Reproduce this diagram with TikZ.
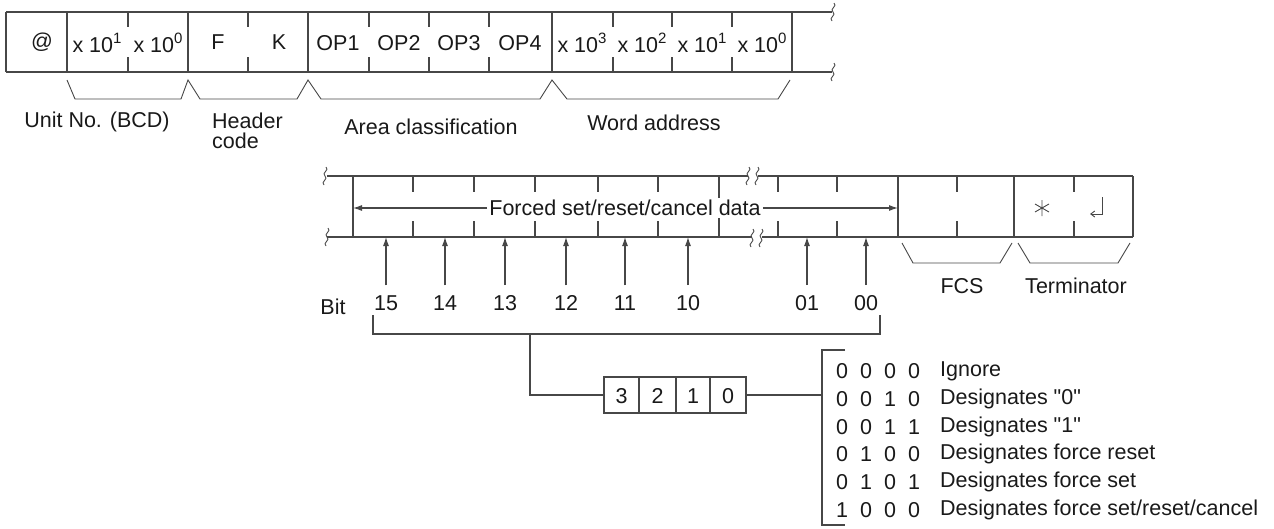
\documentclass[tikz,border=0pt]{standalone}
\usepackage{fontspec}
\setmainfont{Liberation Sans}
\usetikzlibrary{arrows.meta}
\newcommand{\mysup}[1]{\raisebox{0.42em}{\fontsize{15}{15}\selectfont #1}}
\begin{document}
\begin{tikzpicture}[x=1pt,y=-1pt,
  ln/.style={draw=black!72,line width=1.1pt},
  thin/.style={draw=black!72,line width=0.9pt},
  txt/.style={font=\fontsize{21.5}{20}\selectfont,text=black!90,inner sep=0pt},
  arr/.style={ln,-{Latex[length=9pt,width=6pt]}},
  brk/.pic={\draw[thin] (1,-9) .. controls (5,-6) and (-4,-3) .. (0,0) .. controls (4,3) and (-5,6) .. (-1,9);},
  ]
\useasboundingbox (0,0) rectangle (1274,528);

% ---------------- top frame ----------------
\coordinate (tl) at (6,12);
\coordinate (bl) at (6,72);
\draw[ln] (tl) -- (832,12);
\draw[ln] (bl) -- (832,72);
\draw[ln] (tl) -- (bl);
\pic at (833,12) {brk};
\pic at (833,72) {brk};
\foreach \x in {67,188,308,552,792} \draw[ln] (\x,12) -- (\x,72);
\foreach \x in {128,248,369,429,489,613,672,732} {
  \draw[ln] (\x,12) -- (\x,27);
  \draw[ln] (\x,57) -- (\x,72);
}
\node[txt] (at) at (42,42) {@};
\node[txt] (u1) at (97,43) {x 10\mysup{1}};
\node[txt] (u0) at (158,43) {x 10\mysup{0}};
\node[txt] (hf) at (218,42) {F};
\node[txt] (hk) at (279,42) {K};
\node[txt] (op1) at (338,43) {OP1};
\node[txt] (op2) at (399,43) {OP2};
\node[txt] (op3) at (459,43) {OP3};
\node[txt] (op4) at (520,43) {OP4};
\node[txt] (w3) at (582,43) {x 10\mysup{3}};
\node[txt] (w2) at (642,43) {x 10\mysup{2}};
\node[txt] (w1) at (702,43) {x 10\mysup{1}};
\node[txt] (w0) at (762,43) {x 10\mysup{0}};

% brackets under top frame
\draw[thin] (67,80) -- (75,99) -- (181,99) -- (188,80) -- (200,99) -- (297,99) -- (308,80)
  -- (321,99) -- (540,99) -- (552,80) -- (567,99) -- (778,99) -- (790,80);
\node[txt] (unit) at (97,122) {Unit No. (BCD)};
\node[txt,anchor=north west,align=left] (head) at (212,113) {Header\\code};
\node[txt] (area) at (431,127) {Area classification};
\node[txt] (word) at (654,123) {Word address};

% ---------------- second frame ----------------
\draw[ln] (327,176) -- (748,176);
\draw[ln] (758,176) -- (1133,176);
\draw[ln] (327,237) -- (752,237);
\draw[ln] (762,237) -- (1133,237);
\pic at (325,176) {brk};
\pic at (327,237) {brk};
\pic at (748,176) {brk};
\pic at (757,176) {brk};
\pic at (752,238) {brk};
\pic at (761,238) {brk};
\foreach \x in {353,719,898,1014,1133} \draw[ln] (\x,176) -- (\x,237);
\foreach \x in {413,474,535,598,658,778,837,957,1074} {
  \draw[ln] (\x,176) -- (\x,192);
  \draw[ln] (\x,221) -- (\x,237);
}
\coordinate (fl) at (353,208);
\coordinate (fr) at (898,208);
\node[txt,fill=white,inner sep=2pt] (fd) at (625,208) {Forced set/reset/cancel data};
\draw[arr] (fd.west) -- (fl);
\draw[arr] (fd.east) -- (fr);

% terminator symbols
\draw[thin] (1042,200) -- (1042,216) (1035,204) -- (1049,212) (1035,212) -- (1049,204);
\draw[thin,-{Straight Barb[length=4pt,width=6pt]}] (1102,197) -- (1102,214) -- (1090,214);

% FCS / Terminator brackets
\draw[thin] (902,243) -- (913,263) -- (1000,263) -- (1012,243);
\draw[thin] (1018,243) -- (1030,263) -- (1118,263) -- (1130,243);
\node[txt] (fcs) at (962,286) {FCS};
\node[txt] (term) at (1076,286) {Terminator};

% bit labels and arrows
\coordinate (fb) at (0,237);
\node[txt] (bit) at (333,307) {Bit};
\foreach \n/\x in {15/386,14/445,13/505,12/566,11/625,10/688,01/807,00/866} {
  \node[txt] (b\n) at (\x,303) {\n};
  \draw[arr] ([yshift=10pt]b\n.north) -- (b\n.north |- fb);
}

% bracket below bits
\coordinate (k1) at (373,315);
\coordinate (k2) at (880,315);
\coordinate (km) at (530,334);
\draw[ln] (k1) -- (373,334) -- (880,334) -- (k2);

% 4-bit box
\node[ln,minimum width=142pt,minimum height=36pt,inner sep=0pt] (box) at (675,395) {};
\foreach \x in {639,676,710} \draw[ln] (\x,377) -- (\x,413);
\node[txt] (d3) at (621.5,396) {3};
\node[txt] (d2) at (657.5,396) {2};
\node[txt] (d1) at (693,396) {1};
\node[txt] (d0) at (728,396) {0};
\draw[ln] (km) -- (530,395) -- (box.west);
\coordinate (lj) at (822,395);
\draw[ln] (box.east) -- (lj);

% list bracket
\draw[ln] (845,350) -- (822,350) -- (822,525) -- (845,525);

% list
\foreach \i/\a/\b/\c/\d/\t in {
  0/0/0/0/0/{Ignore},
  1/0/0/1/0/{Designates \textquotedbl 0\textquotedbl},
  2/0/0/1/1/{Designates \textquotedbl 1\textquotedbl},
  3/0/1/0/0/{Designates force reset},
  4/0/1/0/1/{Designates force set},
  5/1/0/0/0/{Designates force set/reset/cancel}} {
  \pgfmathsetmacro{\yy}{371+27.8*\i}
  \node[txt] (r\i a) at (842,\yy) {\a};
  \node[txt] (r\i b) at (866,\yy) {\b};
  \node[txt] (r\i c) at (890,\yy) {\c};
  \node[txt] (r\i d) at (914,\yy) {\d};
  \node[txt,anchor=west] (r\i t) at (940,\yy) {\t};
}
\end{tikzpicture}
\end{document}
